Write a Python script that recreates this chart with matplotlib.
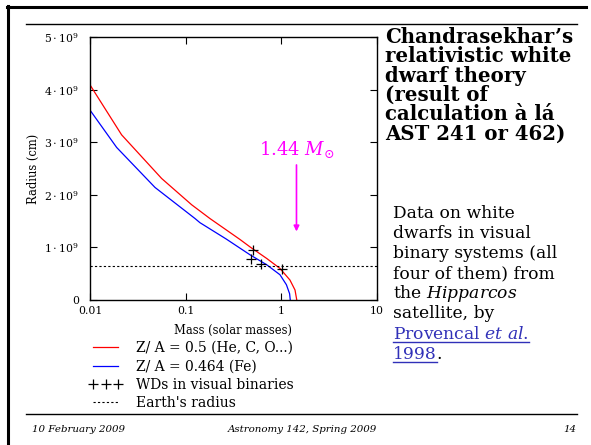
import numpy as np
import matplotlib
matplotlib.use('Agg')
import matplotlib.pyplot as plt
from matplotlib.lines import Line2D

plt.rcParams['font.family'] = ['DejaVu Serif']
plt.rcParams['mathtext.fontset'] = 'dejavuserif'

# ---- data (mass in solar masses, radius in 1e9 cm)
m_red = [0.01, 0.0214, 0.0561, 0.1156, 0.179, 0.37, 0.47, 0.703, 0.968, 1.23, 1.39, 1.45]
r_red = [4.09, 3.14, 2.31, 1.81, 1.55, 1.15, 1.01, 0.79, 0.60, 0.38, 0.19, 0.0]
m_blue = [0.01, 0.019, 0.0478, 0.125, 0.141, 0.265, 0.47, 0.703, 0.968, 1.13, 1.22, 1.24]
r_blue = [3.61, 2.90, 2.14, 1.55, 1.47, 1.16, 0.86, 0.67, 0.48, 0.29, 0.12, 0.0]
m_wd = [0.50, 0.48, 0.61, 1.01]
r_wd = [0.96, 0.77, 0.68, 0.59]
r_earth = 0.637
m_chandra = 1.44

xticks = [0.01, 0.1, 1, 10]
xlabels = ['0.01', '0.1', '1', '10']
yticks = [0, 1, 2, 3, 4, 5]
ylabels = ['0'] + [r'$%d\cdot10^{9}$' % k for k in yticks[1:]]

legend_labels = ['Z/ A = 0.5 (He, C, O...)', 'Z/ A = 0.464 (Fe)',
                 'WDs in visual binaries', "Earth's radius"]

title_lines = "Chandrasekhar\u2019s\nrelativistic white\ndwarf theory\n(result of\ncalculation \u00e0 l\u00e1\nAST 241 or 462)"
body_lines = ['Data on white', 'dwarfs in visual', 'binary systems (all',
              'four of them) from', r'the $\mathit{Hipparcos}$', 'satellite, by']

W, H = 591, 445
fig = plt.figure(figsize=(W/100, H/100), dpi=100)

# slide frame and rules
fig.add_artist(Line2D([8/W, 8/W], [0, 1 - 6/H], color='black', lw=2.2, transform=fig.transFigure))
fig.add_artist(Line2D([7/W, 586/W], [1 - 7/H, 1 - 7/H], color='black', lw=2.2, transform=fig.transFigure))
fig.add_artist(Line2D([26/W, 577/W], [1 - 24/H, 1 - 24/H], color='black', lw=1.0, transform=fig.transFigure))
fig.add_artist(Line2D([26/W, 577/W], [1 - 414/H, 1 - 414/H], color='black', lw=1.0, transform=fig.transFigure))

ax = fig.add_axes([90/W, 1 - 300/H, 287/W, 263/H])
ax.plot(m_red, r_red, color='#ff0000', lw=0.9)
ax.plot(m_blue, r_blue, color='#0000ff', lw=0.9)
ax.plot(m_wd, r_wd, '+', color='black', ms=7, mew=0.9)
ax.axhline(r_earth, color='black', lw=0.8, ls=(0, (2, 2)))

ax.set_xscale('log')
ax.set_xlim(0.01, 10)
ax.set_ylim(0, 5)
ax.set_xticks(xticks)
ax.set_xticklabels(xlabels)
ax.minorticks_off()
ax.set_yticks(yticks)
ax.set_yticklabels(ylabels)
ax.tick_params(direction='in', length=5, width=0.8, top=True, right=True, labelsize=7.8)
ax.tick_params(axis='y', pad=8)
ax.tick_params(axis='x', pad=4)
for s in ax.spines.values():
    s.set_linewidth(1.0)
ax.set_xlabel('Mass (solar masses)', fontsize=8.3, labelpad=6)
ax.set_ylabel('Radius (cm)', fontsize=8.3, labelpad=3)

ax.annotate('', xy=(m_chandra, 1.25), xytext=(m_chandra, 2.62),
            arrowprops=dict(arrowstyle='-|>', color='#ff00ff', lw=1.2, mutation_scale=8))
ax.text(m_chandra, 2.66, r'1.44 $M_{\odot}$', color='#ff00ff', fontsize=13, ha='center', va='bottom')

handles = [Line2D([], [], color='#ff0000', lw=0.9),
           Line2D([], [], color='#0000ff', lw=0.9),
           Line2D([], [], color='black', marker='+', ls='none', ms=7, mew=0.9),
           Line2D([], [], color='black', lw=0.8, ls=(0, (2, 2)))]
fig.legend(handles, legend_labels, loc='upper left', bbox_to_anchor=(89/W, 1 - 341/H),
           frameon=False, fontsize=10, handlelength=2.4, handletextpad=1.0,
           labelspacing=0.32, numpoints=3, borderpad=0, borderaxespad=0)

# right column
fig.text(385/W, 1 - 27/H, title_lines, fontsize=14.2, fontweight='bold', va='top', ha='left',
         linespacing=0.96)
for i, line in enumerate(body_lines):
    fig.text(393/W, 1 - (213 + 20.2*i)/H, line, fontsize=12.3, va='center', ha='left')

link = '#3030b8'
t1 = fig.text(393/W, 1 - (213 + 20.2*6)/H, r'Provencal $\mathit{et\ al.}$', fontsize=12.3,
              va='center', ha='left', color=link)
t2 = fig.text(393/W, 1 - (213 + 20.2*7)/H, '1998', fontsize=12.3, va='center', ha='left', color=link)
fig.canvas.draw()
r = fig.canvas.get_renderer()
for t in (t1, t2):
    bb = t.get_window_extent(r)
    y = bb.y0 + 1
    fig.add_artist(Line2D([bb.x0/W, bb.x1/W], [y/H, y/H], color=link, lw=1.0, transform=fig.transFigure))
bb = t2.get_window_extent(r)
fig.text(bb.x1/W, 1 - (213 + 20.2*7)/H, '.', fontsize=12.3, va='center', ha='left')

# footer
fig.text(32/W, 1 - 429/H, '10 February 2009', fontsize=7.4, style='italic', va='center')
fig.text(302/W, 1 - 429/H, 'Astronomy 142, Spring 2009', fontsize=7.4, style='italic', va='center', ha='center')
fig.text(576/W, 1 - 429/H, '14', fontsize=7.4, style='italic', va='center', ha='right')

fig.savefig('out.png', dpi=100)
